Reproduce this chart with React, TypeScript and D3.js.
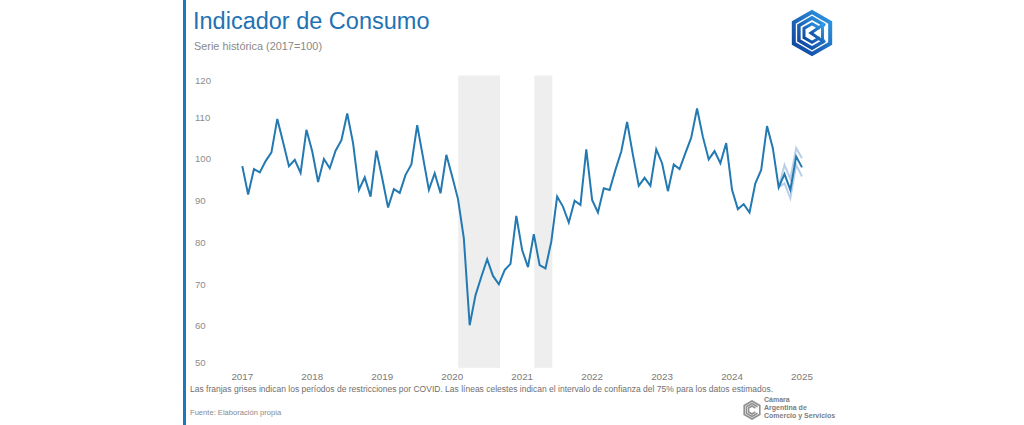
import React from 'react';
import * as d3 from 'd3';

// Indicador de Consumo, serie mensual (2017=100), ene-2017 a ene-2025
const years = [2017, 2018, 2019, 2020, 2021, 2022, 2023, 2024, 2025];
const yTicks = [50, 60, 70, 80, 90, 100, 110, 120];

const v2017 = [98.3, 91.5, 97.6, 96.8, 99.5, 101.6, 109.6, 104, 98.3, 99.8, 96.7, 107];
const v2018 = [101.8, 94.5, 100, 97.8, 102, 104.5, 110.9, 103.8, 92.6, 95.6, 91, 102];
const v2019 = [95.4, 88.4, 92.8, 91.9, 96.2, 98.7, 108.1, 100.4, 92.6, 96.6, 91.8, 101];
const v2020 = [95.8, 90.4, 81, 60.2, 67.4, 71.8, 76, 72, 70, 73.4, 74.9, 86.4];
const v2021 = [78.2, 74.1, 82, 74.6, 73.8, 80.2, 91, 88.6, 84.8, 90, 89, 102.3];
const v2022 = [90.2, 87.2, 93, 92.6, 97.4, 101.8, 108.9, 101, 93.6, 95.5, 93.6, 102.3];
const v2023 = [99, 92.3, 98.7, 97.6, 101.4, 105.1, 112.1, 105.3, 99.9, 101.9, 99, 103.8];
const v2024 = [92.6, 88, 89.2, 87.2, 94.2, 97.4, 107.9, 102.6, 93.2, 96.4, 92.6, 100.6];
const v2025 = [98];

// intervalo de confianza 75% (sep-2024 a ene-2025)
const ciUpper = [93.2, 98.6, 95.2, 102.6, 100.2];
const ciLower = [93.2, 94.2, 90.6, 98.6, 95.8];
const ciStartMonth = 92;

// franjas COVID (años decimales)
const covidBands = [
  [2020.087, 2020.684],
  [2021.174, 2021.431],
];

const values = [...v2017, ...v2018, ...v2019, ...v2020, ...v2021, ...v2022, ...v2023, ...v2024, ...v2025];
const series = values.map((v, i) => ({ t: 2017 + i / 12, v }));
const upper = ciUpper.map((v, i) => ({ t: 2017 + (ciStartMonth + i) / 12, v }));
const lower = ciLower.map((v, i) => ({ t: 2017 + (ciStartMonth + i) / 12, v }));

const W = 1024;
const H = 425;
const FONT = '"Liberation Sans", Arial, Helvetica, sans-serif';

const x = d3.scaleLinear().domain([2017, 2025]).range([242.3, 802]);
const y = d3.scaleLinear().domain([50, 120]).range([367.8, 75.5]);

const line = d3.line<{ t: number; v: number }>()
  .x(d => x(d.t))
  .y(d => y(d.v));

function hexLogo(cx: number, cy: number, r: number) {
  const c30 = Math.cos(Math.PI / 6);
  const pt = (k: number, a: number, b: number) => [cx + k * a * c30, cy + k * b];
  const cPath = (k: number) => {
    const p = [pt(k, 1, -0.5), pt(k, 0, -1), pt(k, -1, -0.5), pt(k, -1, 0.5), pt(k, 0, 1), pt(k, 1, 0.5)];
    return 'M' + p.map(q => q.join(',')).join('L');
  };
  return {
    outer: cPath(r) + 'Z',
    mid: cPath(r * 0.72),
    inner: cPath(r * 0.44),
    tri: `M${cx + r * 0.5},${cy - r * 0.38}L${cx + r * 0.5},${cy + r * 0.38}L${cx - r * 0.05},${cy}Z`,
  };
}

const App: React.FC = () => {
  const big = hexLogo(812, 33, 21);
  const small = hexLogo(752, 410, 9);

  const yLabelPos = (v: number) => Math.min(Math.max(y(v), y(120) + 5.5), y(50) - 5.5);

  return (
    <svg
      width={W}
      height={H}
      style={{ position: 'absolute', left: 0, top: 0, background: '#ffffff', fontFamily: FONT }}
    >
      <defs>
        <linearGradient id="logoGrad" x1="0" y1="1" x2="1" y2="0">
          <stop offset="0%" stopColor="#0d3f9a" />
          <stop offset="100%" stopColor="#2f9be6" />
        </linearGradient>
      </defs>

      {/* barra lateral */}
      <rect x={183} y={0} width={3} height={H} fill="#1a78bd" />

      {/* títulos */}
      <text x={193} y={29} fontSize={23.5} fill="#1f72b3">Indicador de Consumo</text>
      <text x={194} y={50} fontSize={10.9} fill="#8a8a8a">Serie histórica (2017=100)</text>

      {/* logo */}
      <g fill="none" stroke="url(#logoGrad)" strokeWidth={4} strokeLinejoin="miter">
        <path d={big.outer} />
        <path d={big.mid} strokeWidth={3.5} />
        <path d={big.inner} strokeWidth={3} />
        <path d={big.tri} strokeWidth={3} />
      </g>

      {/* franjas COVID */}
      {covidBands.map((b, i) => (
        <rect key={i} x={x(b[0])} y={y(120)} width={x(b[1]) - x(b[0])} height={y(50) - y(120)} fill="#eeeeee" />
      ))}

      {/* eje Y */}
      {yTicks.map(t => (
        <text key={t} x={195} y={yLabelPos(t)} dy="0.35em" fontSize={9.6} fill="#8c8c8c">{t}</text>
      ))}

      {/* eje X */}
      {years.map(yr => (
        <text key={yr} x={x(yr)} y={380} textAnchor="middle" fontSize={9.8} fill="#7a7a7a">{yr}</text>
      ))}

      {/* intervalo de confianza */}
      <path d={line(upper) || ''} fill="none" stroke="#b9cfe8" strokeWidth={2} />
      <path d={line(lower) || ''} fill="none" stroke="#b9cfe8" strokeWidth={2} />

      {/* serie */}
      <path d={line(series) || ''} fill="none" stroke="#2379b1" strokeWidth={2} strokeLinejoin="miter" />

      {/* notas */}
      <text x={190} y={392} fontSize={8.5} fill="#6f6f6f">
        Las franjas grises indican los períodos de restricciones por COVID. Las líneas celestes indican el intervalo de confianza del 75% para los datos estimados.
      </text>
      <text x={190} y={415} fontSize={7.6} fill="#8a8a8a">Fuente: Elaboración propia</text>

      {/* logo CAC */}
      <g fill="none" stroke="#8f8f8f" strokeWidth={1.6}>
        <path d={small.outer} />
        <path d={small.mid} />
        <path d={small.inner} />
      </g>
      <g fontSize={7} fontWeight="bold" fill="#7d7d7d">
        <text x={764} y={402}>Cámara</text>
        <text x={764} y={410}>Argentina de</text>
        <text x={764} y={418}>Comercio y Servicios</text>
      </g>
    </svg>
  );
};

export default App;
